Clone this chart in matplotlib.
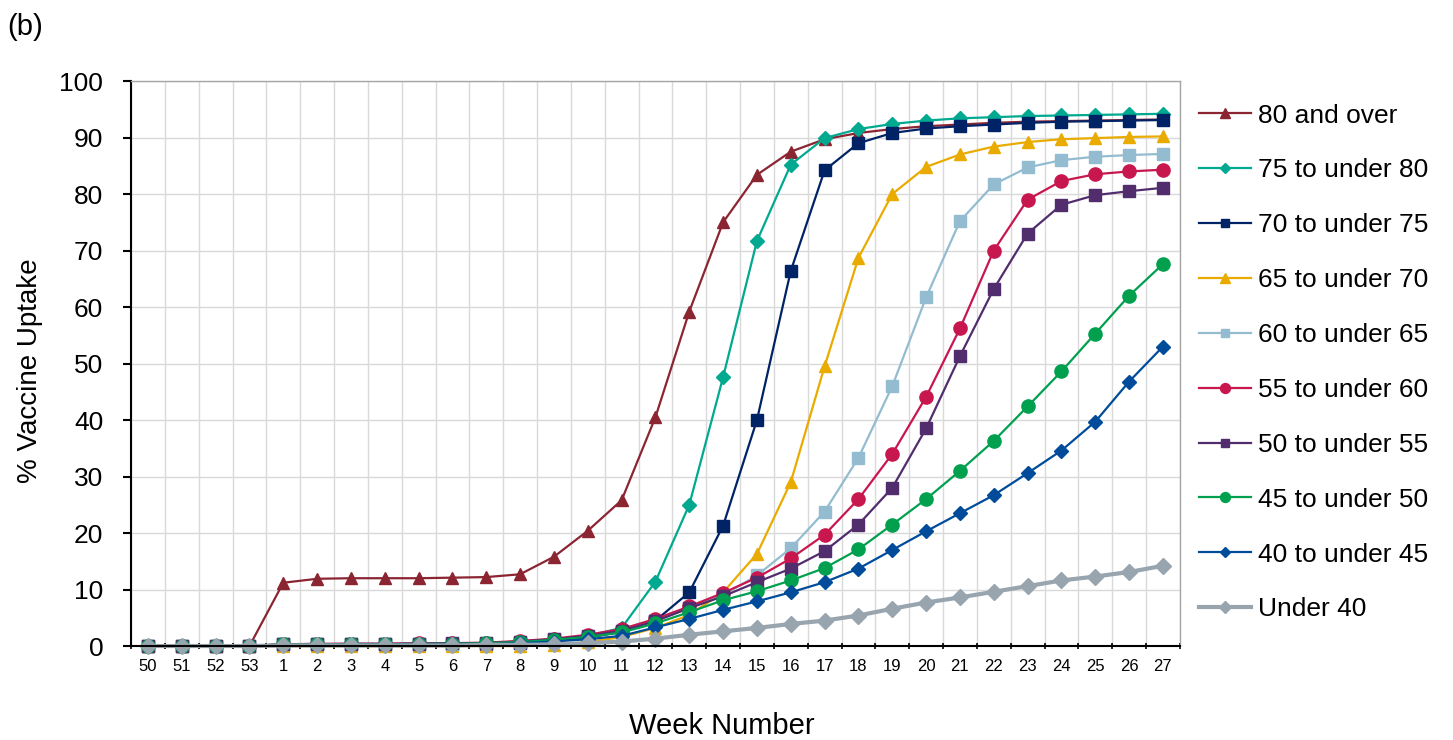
import numpy as np
import matplotlib.pyplot as plt
from matplotlib.ticker import FixedLocator

plt.rcParams['font.family'] = ['Liberation Sans', 'DejaVu Sans']

weeks = ['50', '51', '52', '53'] + [str(w) for w in range(1, 28)]

age_groups = ['80 and over', '75 to under 80', '70 to under 75', '65 to under 70',
              '60 to under 65', '55 to under 60', '50 to under 55', '45 to under 50',
              '40 to under 45', 'Under 40']

# weekly cumulative uptake (%), weeks 50..53 then 1..27
over80 = [0, 0, 0, 0, 11.2, 11.9, 12.0, 12.0, 12.0, 12.1, 12.2, 12.7, 15.8, 20.4, 25.8,
          40.5, 59.2, 75.0, 83.4, 87.5, 89.7, 90.8, 91.5, 92.0, 92.3, 92.6, 92.8, 92.9,
          93.0, 93.1, 93.2]
age75 = [0, 0, 0, 0, 0.3, 0.3, 0.3, 0.3, 0.4, 0.4, 0.5, 0.7, 1.2, 1.8, 3.2,
         11.4, 25.0, 47.6, 71.7, 85.2, 89.9, 91.5, 92.4, 93.0, 93.4, 93.6, 93.8, 93.9,
         94.0, 94.1, 94.2]
age70 = [0, 0, 0, 0, 0.3, 0.3, 0.3, 0.3, 0.3, 0.4, 0.4, 0.6, 1.0, 1.5, 2.5,
         4.5, 9.5, 21.3, 40.0, 66.4, 84.2, 89.0, 90.8, 91.6, 92.0, 92.3, 92.6, 92.8,
         92.9, 93.0, 93.1]
age65 = [0, 0, 0, 0, 0, 0, 0, 0, 0, 0, 0, 0, 0.2, 0.7, 1.6,
         3.2, 5.5, 9.5, 16.3, 29.0, 49.5, 68.7, 80.0, 84.8, 87.0, 88.4, 89.2, 89.7,
         89.9, 90.1, 90.2]
age60 = [0, 0, 0, 0, 0.3, 0.3, 0.3, 0.3, 0.4, 0.4, 0.5, 0.8, 1.2, 1.8, 2.7,
         4.5, 6.8, 9.0, 12.5, 17.3, 23.8, 33.3, 46.0, 61.7, 75.2, 81.7, 84.7, 86.0,
         86.6, 86.9, 87.1]
age55 = [0, 0, 0, 0, 0.3, 0.4, 0.4, 0.4, 0.5, 0.5, 0.6, 0.9, 1.3, 2.0, 3.0,
         4.8, 7.0, 9.4, 12.1, 15.5, 19.7, 26.0, 34.0, 44.1, 56.2, 70.0, 79.0, 82.3,
         83.5, 84.0, 84.3]
age50 = [0, 0, 0, 0, 0.3, 0.3, 0.4, 0.4, 0.4, 0.5, 0.5, 0.8, 1.2, 1.8, 2.7,
         4.4, 6.7, 8.8, 11.3, 13.7, 16.8, 21.5, 28.0, 38.5, 51.3, 63.2, 73.0, 78.1,
         79.8, 80.5, 81.1]
age45 = [0, 0, 0, 0, 0.3, 0.3, 0.3, 0.3, 0.4, 0.4, 0.5, 0.7, 1.1, 1.6, 2.4,
         4.0, 6.0, 8.1, 9.7, 11.6, 13.8, 17.1, 21.5, 26.0, 31.0, 36.3, 42.4, 48.6,
         55.3, 62.0, 67.6]
age40 = [0, 0, 0, 0, 0.2, 0.2, 0.2, 0.2, 0.3, 0.3, 0.3, 0.5, 0.8, 1.2, 1.8,
         3.3, 4.8, 6.4, 7.9, 9.5, 11.3, 13.7, 17.0, 20.3, 23.5, 26.7, 30.6, 34.6,
         39.7, 46.8, 53.0]
under40 = [0, 0, 0, 0, 0.1, 0.1, 0.1, 0.1, 0.1, 0.1, 0.2, 0.2, 0.3, 0.5, 0.8,
           1.3, 2.0, 2.6, 3.2, 3.9, 4.5, 5.4, 6.6, 7.7, 8.6, 9.6, 10.6, 11.6,
           12.3, 13.1, 14.2]

series = [over80, age75, age70, age65, age60, age55, age50, age45, age40, under40]
colors = ['#8B2532', '#00A98F', '#002366', '#EAAB00', '#93BCD0',
          '#C8174E', '#522D6D', '#00A04F', '#004C9B', '#98A4AE']
markers = ['^', 'D', 's', '^', 's', 'o', 's', 'o', 'D', 'D']
msizes = [9, 7, 8, 9, 8, 9.5, 8, 9.5, 7, 8]
lwidths = [1.6, 1.6, 1.6, 1.6, 1.6, 1.6, 1.6, 1.6, 1.6, 3.0]

fig = plt.figure(figsize=(14.53, 7.4), dpi=100)
ax = fig.add_axes([0.0902, 0.127, 0.7218, 0.7635])

x = np.arange(len(weeks))
for vals, lab, c, m, ms, lw in zip(series, age_groups, colors, markers, msizes, lwidths):
    ax.plot(x, vals, color=c, marker=m, markersize=ms, linewidth=lw, label=lab,
            markeredgecolor=c, clip_on=False)

ax.set_xlim(-0.5, len(weeks) - 0.5)
ax.set_ylim(0, 100)
ax.set_yticks(np.arange(0, 101, 10))
ax.set_xticks(x)
ax.set_xticklabels(weeks)
ax.xaxis.set_minor_locator(FixedLocator(np.arange(-0.5, len(weeks), 1)))
ax.tick_params(axis='x', which='major', length=0, labelsize=12, pad=9)
ax.tick_params(axis='x', which='minor', length=5, width=1.2, direction='inout')
ax.tick_params(axis='y', which='major', length=6, width=1.5, labelsize=19,
               direction='out', pad=14)

ax.grid(True, axis='y', which='major', color='#D9D9D9', linewidth=1)
ax.grid(True, axis='x', which='minor', color='#D9D9D9', linewidth=1)
ax.set_axisbelow(True)

for s in ['top', 'right']:
    ax.spines[s].set_color('#A6A6A6')
    ax.spines[s].set_linewidth(1)
ax.spines['left'].set_linewidth(1.5)
ax.spines['bottom'].set_linewidth(1.5)

ax.set_ylabel('% Vaccine Uptake', fontsize=20)
ax.yaxis.set_label_coords(-0.084, 0.488)
ax.set_xlabel('Week Number', fontsize=21)
ax.xaxis.set_label_coords(0.563, -0.117)

handles, labels = ax.get_legend_handles_labels()
leg = fig.legend(handles, labels, loc='upper left', bbox_to_anchor=(0.825, 0.86),
                 frameon=False, fontsize=19, labelspacing=1.17, handlelength=1.97,
                 handletextpad=0.27, markerscale=0.75, borderpad=0, borderaxespad=0)

fig.text(0.005, 0.964, '(b)', fontsize=21, va='center')

fig.savefig('out.png', dpi=100)
